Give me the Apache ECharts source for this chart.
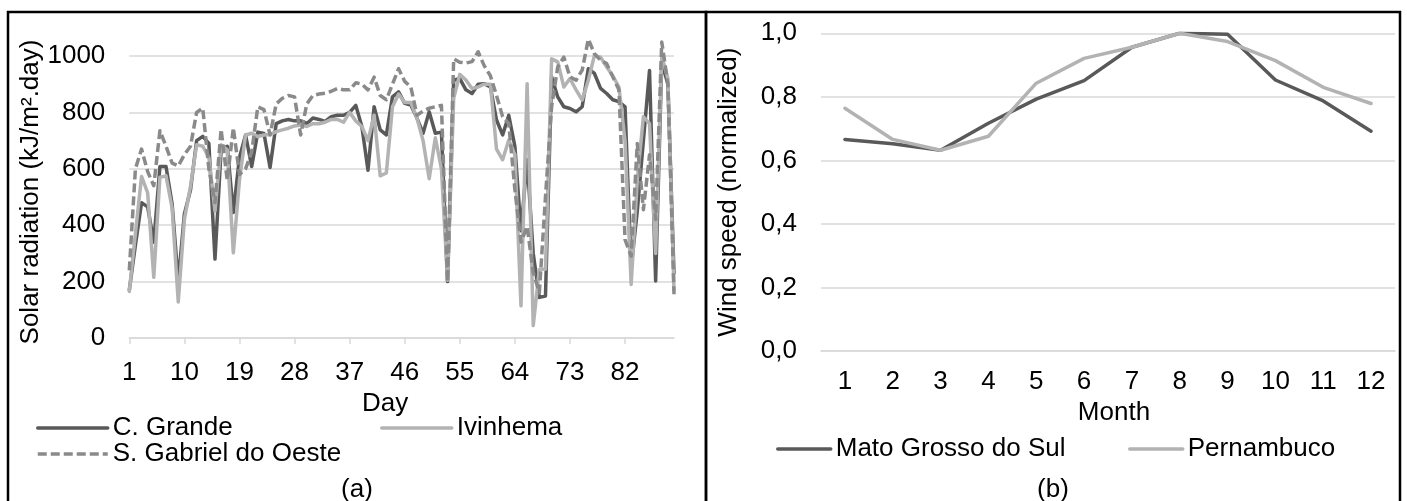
<!DOCTYPE html>
<html>
<head>
<meta charset="utf-8">
<script src="https://cdn.jsdelivr.net/npm/echarts@6/dist/echarts.min.js"></script>
<style>
html,body{margin:0;padding:0;background:#fff;}
#c{width:1407px;height:501px;}
</style>
</head>
<body>
<div id="c"></div>
<script>
const days = [1,2,3,4,5,6,7,8,9,10,11,12,13,14,15,16,17,18,19,20,21,22,23,24,25,26,27,28,29,30,
  31,32,33,34,35,36,37,38,39,40,41,42,43,44,45,46,47,48,49,50,51,52,53,54,55,56,57,58,59,60,
  61,62,63,64,65,66,67,68,69,70,71,72,73,74,75,76,77,78,79,80,81,82,83,84,85,86,87,88,89,90];
const cGrande = [170,330,480,465,340,608,608,475,200,440,
  525,700,715,690,280,667,680,445,640,720,
  608,730,725,605,760,770,775,770,770,760,
  780,775,768,785,790,790,800,825,750,595,
  820,738,720,855,873,832,826,780,726,802,
  726,730,200,914,920,880,867,900,902,890,
  773,720,790,680,380,632,300,144,149,926,
  855,820,814,802,820,955,938,885,867,845,
  838,820,250,450,700,949,202,980,900,230];
const ivinhema = [165,370,573,515,215,570,575,460,128,420,
  538,685,680,640,450,685,667,302,560,720,
  726,714,720,722,732,738,744,752,755,750,
  760,760,765,775,775,765,800,770,750,700,
  790,575,585,820,865,835,835,780,700,565,
  710,600,205,850,935,915,885,890,900,900,
  670,632,702,650,114,902,44,244,244,990,
  979,890,920,880,844,914,1002,996,961,930,
  890,700,190,561,785,760,300,1000,920,170];
const sGabriel = [240,600,670,590,540,735,680,620,610,650,
  680,800,815,600,480,740,560,745,580,600,
  660,820,810,720,830,850,860,855,720,830,
  860,865,868,875,885,880,880,905,900,880,
  925,860,845,900,955,910,890,790,805,815,
  820,825,200,990,978,975,980,1015,965,930,
  860,785,760,526,340,396,232,161,500,820,
  961,996,926,914,950,1060,1008,985,973,926,
  880,349,290,690,455,650,420,1050,902,155];
const months = ['1','2','3','4','5','6','7','8','9','10','11','12'];
const matoGrosso = [0.666,0.652,0.632,0.717,0.793,0.851,0.956,1.0,0.997,0.853,0.787,0.692];
const pernambuco = [0.764,0.666,0.632,0.676,0.843,0.921,0.956,1.0,0.974,0.914,0.830,0.779];

const FONT = "'Liberation Sans', Arial, sans-serif";
const FS = 26;
const LW = 3.5;
const txt = {color:'#000', fontFamily: FONT, fontSize: FS};
const DARK = '#595959', LIGHT = '#b3b3b3', MID = '#8a8a8a';
const gridLine = {show:true, lineStyle:{color:'#d9d9d9', width:1.5}};
const legendBase = {padding:0, itemHeight:14, textStyle:txt, itemStyle:{opacity:0}, lineStyle:{width:LW}};

const chart = echarts.init(document.getElementById('c'), null, {renderer:'canvas'});
chart.setOption({
  animation: false,
  backgroundColor: '#fff',
  grid: [
    {left: 129.3, right: 733, top: 56, bottom: 163},
    {left: 821, right: 12, top: 33.3, bottom: 150}
  ],
  xAxis: [
    {type:'category', gridIndex:0, data: days, boundaryGap:false,
     axisLine:{show:true, lineStyle:{color:'#d9d9d9', width:1.5}},
     axisTick:{show:true, interval:8, length:6, lineStyle:{color:'#d9d9d9', width:1.5}},
     axisLabel:Object.assign({interval:8, margin:22}, txt),
     splitLine:{show:false},
     name:'Day', nameLocation:'middle', nameGap:46,
     nameTextStyle:Object.assign({padding:[0,33,0,0]}, txt)},
    {type:'category', gridIndex:1, data: months, boundaryGap:true,
     axisLine:{show:true, lineStyle:{color:'#d9d9d9', width:1.5}},
     axisTick:{show:false},
     axisLabel:Object.assign({interval:0, margin:18}, txt),
     name:'Month', nameLocation:'middle', nameGap:45,
     nameTextStyle:Object.assign({padding:[0,0,0,12]}, txt)}
  ],
  yAxis: [
    {type:'value', gridIndex:0, min:0, max:1000, interval:200,
     axisLine:{show:false}, axisTick:{show:false},
     axisLabel:Object.assign({margin:24, formatter: v => String(v)}, txt),
     splitLine:gridLine,
     name:'Solar radiation (kJ/m².day)', nameLocation:'middle', nameGap:82,
     nameTextStyle:Object.assign({padding:[0,0,0,10]}, txt)},
    {type:'value', gridIndex:1, min:0, max:1, interval:0.2,
     axisLine:{show:false}, axisTick:{show:false},
     axisLabel:Object.assign({margin:24, formatter: v => v.toFixed(1).replace('.', ',')}, txt),
     splitLine:gridLine,
     name:'Wind speed (normalized)', nameLocation:'middle', nameGap:79,
     nameTextStyle:Object.assign({}, txt)}
  ],
  legend: [
    Object.assign({data:['C. Grande'], left:36, top:415, itemWidth:70}, legendBase),
    Object.assign({data:['Ivinhema'], left:380, top:415, itemWidth:70}, legendBase),
    Object.assign({data:['S. Gabriel do Oeste'], left:36, top:441, itemWidth:70}, legendBase),
    Object.assign({data:['Mato Grosso do Sul'], left:776, top:436, itemWidth:53}, legendBase),
    Object.assign({data:['Pernambuco'], left:1128, top:436, itemWidth:53}, legendBase)
  ],
  series: [
    {name:'C. Grande', type:'line', xAxisIndex:0, yAxisIndex:0, data:cGrande, symbol:'none', clip:false,
     lineStyle:{color:DARK, width:LW, cap:'round', join:'round'}, itemStyle:{color:DARK}},
    {name:'Ivinhema', type:'line', xAxisIndex:0, yAxisIndex:0, data:ivinhema, symbol:'none', clip:false,
     lineStyle:{color:LIGHT, width:LW, cap:'round', join:'round'}, itemStyle:{color:LIGHT}},
    {name:'S. Gabriel do Oeste', type:'line', xAxisIndex:0, yAxisIndex:0, data:sGabriel, symbol:'none', clip:false,
     lineStyle:{color:MID, width:LW, type:[9,4], join:'round'}, itemStyle:{color:MID}},
    {name:'Mato Grosso do Sul', type:'line', xAxisIndex:1, yAxisIndex:1, data:matoGrosso, symbol:'none',
     lineStyle:{color:DARK, width:LW, cap:'round', join:'round'}, itemStyle:{color:DARK}},
    {name:'Pernambuco', type:'line', xAxisIndex:1, yAxisIndex:1, data:pernambuco, symbol:'none',
     lineStyle:{color:LIGHT, width:LW, cap:'round', join:'round'}, itemStyle:{color:LIGHT}}
  ],
  graphic: [
    {type:'rect', shape:{x:8, y:12, width:698, height:500}, style:{fill:'none', stroke:'#000', lineWidth:2.5}, z:100},
    {type:'rect', shape:{x:706, y:12, width:694, height:500}, style:{fill:'none', stroke:'#000', lineWidth:2.5}, z:100},
    {type:'text', x:357, y:490, style:{text:'(a)', fill:'#000', font: FS + "px " + FONT, textAlign:'center', textVerticalAlign:'middle'}},
    {type:'text', x:1053, y:490, style:{text:'(b)', fill:'#000', font: FS + "px " + FONT, textAlign:'center', textVerticalAlign:'middle'}}
  ]
});
</script>
</body>
</html>
